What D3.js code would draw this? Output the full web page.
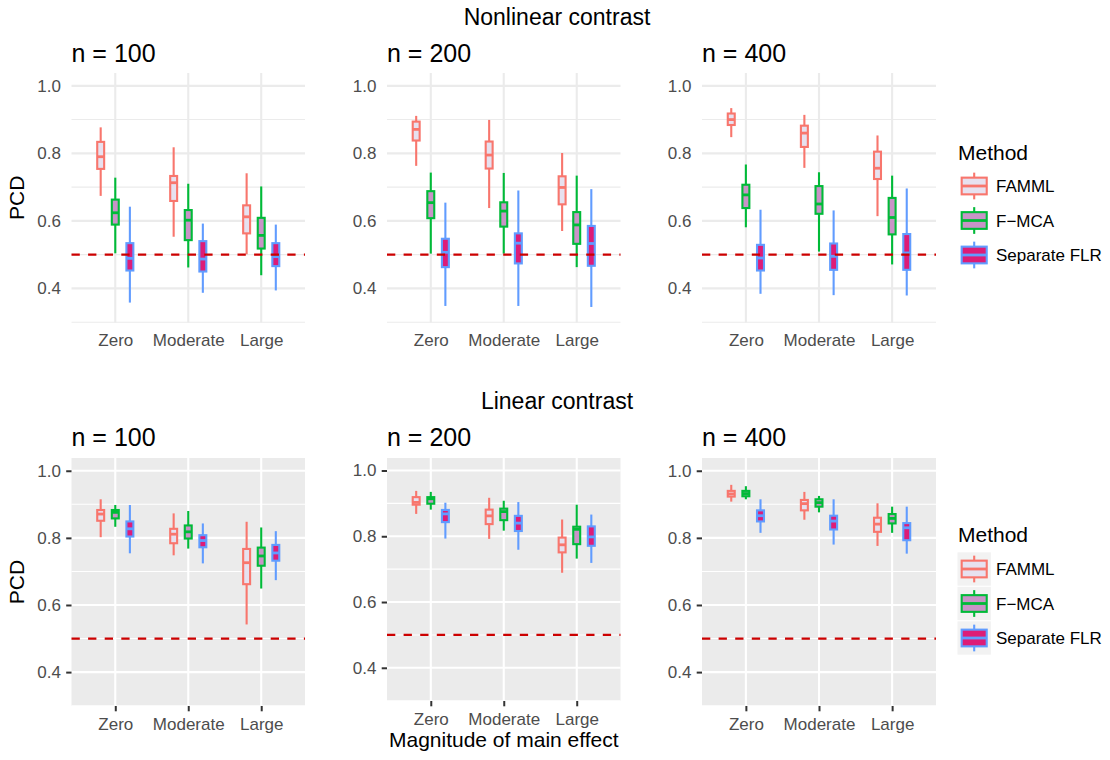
<!DOCTYPE html>
<html>
<head>
<meta charset="utf-8">
<script src="https://cdn.jsdelivr.net/npm/d3@7"></script>
<style>
  html, body { margin: 0; padding: 0; background: #ffffff; }
  svg { display: block; font-family: "Liberation Sans", Arial, Helvetica, sans-serif; }
</style>
</head>
<body>
<svg id="chart" width="1110" height="760"></svg>
<script>
// ---- data ----
const categories = ["Zero", "Moderate", "Large"];
const methods = ["FAMML", "F\u2212MCA", "Separate FLR"];
const sampleSizes = ["n = 100", "n = 200", "n = 400"];
const contrasts = ["Nonlinear contrast", "Linear contrast"];
const yTicks = [0.4, 0.6, 0.8, 1.0];
const yMinorTicks = [0.3, 0.5, 0.7, 0.9];
const chanceLevel = 0.5;
const outlineColors = ["#F8766D", "#00BA38", "#619CFF"];
const fillColors = ["#E7E1EF", "#C994C7", "#DD1C77"];

// Box statistics: [lower whisker, Q1, median, Q3, upper whisker]
// rows: Zero (FAMML, F-MCA, Separate FLR), Moderate (...), Large (...)
const nonlinearN100 = [
  [0.674, 0.754, 0.790, 0.834, 0.877],
  [0.504, 0.589, 0.624, 0.663, 0.728],
  [0.358, 0.453, 0.489, 0.534, 0.642],
  [0.553, 0.659, 0.713, 0.733, 0.818],
  [0.462, 0.543, 0.602, 0.632, 0.710],
  [0.387, 0.450, 0.487, 0.540, 0.592],
  [0.501, 0.563, 0.612, 0.646, 0.741],
  [0.439, 0.518, 0.557, 0.609, 0.702],
  [0.394, 0.466, 0.494, 0.534, 0.589]
];
const nonlinearN200 = [
  [0.763, 0.838, 0.871, 0.894, 0.911],
  [0.503, 0.608, 0.654, 0.688, 0.743],
  [0.348, 0.463, 0.507, 0.547, 0.654],
  [0.638, 0.755, 0.795, 0.835, 0.899],
  [0.503, 0.583, 0.629, 0.655, 0.742],
  [0.348, 0.474, 0.534, 0.563, 0.690],
  [0.570, 0.649, 0.699, 0.732, 0.801],
  [0.463, 0.532, 0.588, 0.626, 0.734],
  [0.345, 0.467, 0.533, 0.585, 0.694]
];
const nonlinearN400 = [
  [0.848, 0.884, 0.900, 0.918, 0.934],
  [0.581, 0.638, 0.677, 0.707, 0.767],
  [0.384, 0.453, 0.490, 0.529, 0.633],
  [0.757, 0.819, 0.860, 0.882, 0.914],
  [0.509, 0.621, 0.650, 0.703, 0.744],
  [0.380, 0.455, 0.495, 0.533, 0.631],
  [0.614, 0.724, 0.756, 0.805, 0.853],
  [0.471, 0.560, 0.610, 0.668, 0.734],
  [0.379, 0.455, 0.505, 0.561, 0.696]
];
const linearN100 = [
  [0.802, 0.851, 0.871, 0.883, 0.915],
  [0.833, 0.858, 0.876, 0.883, 0.898],
  [0.754, 0.804, 0.827, 0.849, 0.898],
  [0.748, 0.784, 0.811, 0.827, 0.873],
  [0.768, 0.798, 0.818, 0.837, 0.880],
  [0.724, 0.772, 0.792, 0.808, 0.843],
  [0.542, 0.662, 0.726, 0.767, 0.848],
  [0.649, 0.717, 0.746, 0.771, 0.831],
  [0.674, 0.732, 0.755, 0.779, 0.820]
];
const linearN200 = [
  [0.868, 0.896, 0.903, 0.919, 0.938],
  [0.881, 0.899, 0.914, 0.919, 0.935],
  [0.793, 0.843, 0.868, 0.880, 0.902],
  [0.792, 0.837, 0.862, 0.881, 0.917],
  [0.817, 0.849, 0.875, 0.884, 0.908],
  [0.759, 0.816, 0.840, 0.862, 0.904],
  [0.689, 0.751, 0.774, 0.796, 0.851],
  [0.732, 0.776, 0.821, 0.829, 0.896],
  [0.719, 0.771, 0.798, 0.830, 0.866]
];
const linearN400 = [
  [0.908, 0.923, 0.931, 0.940, 0.958],
  [0.915, 0.924, 0.932, 0.940, 0.954],
  [0.815, 0.849, 0.866, 0.882, 0.915],
  [0.854, 0.882, 0.902, 0.913, 0.937],
  [0.876, 0.893, 0.905, 0.915, 0.925],
  [0.780, 0.825, 0.850, 0.866, 0.915],
  [0.776, 0.818, 0.841, 0.860, 0.903],
  [0.815, 0.843, 0.858, 0.871, 0.893],
  [0.753, 0.793, 0.830, 0.844, 0.893]
];

const panelStats = [
  [nonlinearN100, nonlinearN200, nonlinearN400],
  [linearN100, linearN200, linearN400]
];

// ---- layout ----
const yDomain = [0.299, 1.038];
const columnX = [[71.5, 305], [387, 620.5], [702, 936]];
const rowLayout = [
  { top: 73,  bottom: [322.5, 322.5, 322.5], titleY: 25,  nTitleY: 62,    grey: false, legendTitleY: 160, legendKeyY: 186 },
  { top: 458, bottom: [706, 701, 706],       titleY: 409, nTitleY: 445.7, grey: true,  legendTitleY: 542, legendKeyY: 569 }
];
const majorW = 2.1, minorW = 1.05;

const svg = d3.select("#chart");

function drawBox(g, cx, bw, row, y, mi) {
  const [lo, q1, med, q3, hi] = row;
  g.append("line")
    .attr("x1", cx).attr("x2", cx)
    .attr("y1", y(lo)).attr("y2", y(hi))
    .attr("stroke", outlineColors[mi]).attr("stroke-width", 2.1);
  g.append("rect")
    .attr("x", cx - bw / 2).attr("width", bw)
    .attr("y", y(q3)).attr("height", y(q1) - y(q3))
    .attr("fill", fillColors[mi])
    .attr("stroke", outlineColors[mi]).attr("stroke-width", 2.1);
  g.append("line")
    .attr("x1", cx - bw / 2).attr("x2", cx + bw / 2)
    .attr("y1", y(med)).attr("y2", y(med))
    .attr("stroke", outlineColors[mi]).attr("stroke-width", 2.8);
}

function drawPanel(stats, x0, x1, y0, y1, grey, showXTitle) {
  const g = svg.append("g");
  const x = d3.scalePoint().domain(categories).range([x0, x1]).padding(0.6);
  const step = x.step();
  const y = d3.scaleLinear().domain(yDomain).range([y1, y0]);
  const gridColor = grey ? "#FFFFFF" : "#EBEBEB";

  if (grey) {
    g.append("rect").attr("x", x0).attr("y", y0)
      .attr("width", x1 - x0).attr("height", y1 - y0)
      .attr("fill", "#EBEBEB");
  }
  // grid
  g.selectAll(null).data(yMinorTicks).enter().append("line")
    .attr("x1", x0).attr("x2", x1)
    .attr("y1", d => y(d)).attr("y2", d => y(d))
    .attr("stroke", gridColor).attr("stroke-width", minorW);
  g.selectAll(null).data(yTicks).enter().append("line")
    .attr("x1", x0).attr("x2", x1)
    .attr("y1", d => y(d)).attr("y2", d => y(d))
    .attr("stroke", gridColor).attr("stroke-width", majorW);
  g.selectAll(null).data(categories).enter().append("line")
    .attr("x1", d => x(d)).attr("x2", d => x(d))
    .attr("y1", y0).attr("y2", y1)
    .attr("stroke", gridColor).attr("stroke-width", majorW);

  // axes
  const tickLen = grey ? 5.3 : 0;
  const yAxis = d3.axisLeft(y).tickValues(yTicks).tickFormat(d3.format(".1f"))
    .tickSize(tickLen).tickPadding(10.5 - tickLen);
  const xAxis = d3.axisBottom(x).tickSize(tickLen).tickPadding(11.9 - tickLen);
  const ya = g.append("g").attr("transform", `translate(${x0},0)`).call(yAxis);
  const xa = g.append("g").attr("transform", `translate(0,${y1})`).call(xAxis);
  [ya, xa].forEach(a => {
    a.attr("font-family", null).attr("font-size", null);
    a.select(".domain").remove();
    a.selectAll(".tick line").attr("stroke", "#333333").attr("stroke-width", 2);
    a.selectAll(".tick text").attr("fill", "#4D4D4D").style("font-size", "17px");
  });

  // boxes
  const bw = 0.095 * step;
  categories.forEach((c, ci) => {
    methods.forEach((m, mi) => {
      const cx = x(c) + (mi - 1) * 0.2 * step;
      drawBox(g, cx, bw, stats[ci * 3 + mi], y, mi);
    });
  });

  // reference line at chance level
  g.append("line")
    .attr("x1", x0).attr("x2", x1)
    .attr("y1", y(chanceLevel)).attr("y2", y(chanceLevel))
    .attr("stroke", "#CC0000").attr("stroke-width", 2.2)
    .attr("stroke-dasharray", "8.3 8.3");

  if (showXTitle) {
    svg.append("text").attr("x", (x0 + x1) / 2).attr("y", 747)
      .attr("text-anchor", "middle").attr("fill", "#000")
      .style("font-size", "21px").text("Magnitude of main effect");
  }
}

function drawLegend(titleY, keyY, grey) {
  const g = svg.append("g");
  const keySize = 33.4, keyStep = 34.5, kx = 957.5;
  g.append("text").attr("x", 958).attr("y", titleY)
    .attr("fill", "#000").style("font-size", "21px").text("Method");
  methods.forEach((m, i) => {
    const cy = keyY + i * keyStep;
    const top = cy - keySize / 2;
    if (grey) {
      g.append("rect").attr("x", kx).attr("y", top)
        .attr("width", keySize).attr("height", keySize).attr("fill", "#F2F2F2");
    }
    const cx = kx + keySize / 2;
    g.append("line").attr("x1", cx).attr("x2", cx)
      .attr("y1", top + 0.1 * keySize).attr("y2", top + 0.9 * keySize)
      .attr("stroke", outlineColors[i]).attr("stroke-width", 2.1);
    g.append("rect").attr("x", kx + 0.125 * keySize).attr("width", 0.75 * keySize)
      .attr("y", top + 0.25 * keySize).attr("height", 0.5 * keySize)
      .attr("fill", fillColors[i]).attr("stroke", outlineColors[i]).attr("stroke-width", 2.1);
    g.append("line").attr("x1", kx + 0.125 * keySize).attr("x2", kx + 0.875 * keySize)
      .attr("y1", cy).attr("y2", cy)
      .attr("stroke", outlineColors[i]).attr("stroke-width", 2.8);
    g.append("text").attr("x", 996).attr("y", cy + 6)
      .attr("fill", "#000").style("font-size", "17px").text(m);
  });
}

rowLayout.forEach((row, ri) => {
  svg.append("text").attr("x", 557).attr("y", row.titleY)
    .attr("text-anchor", "middle").attr("fill", "#000")
    .style("font-size", "23px").text(contrasts[ri]);
  sampleSizes.forEach((n, ci) => {
    const [x0, x1] = columnX[ci];
    svg.append("text").attr("x", x0).attr("y", row.nTitleY)
      .attr("fill", "#000").style("font-size", "25px").text(n);
    drawPanel(panelStats[ri][ci], x0, x1, row.top, row.bottom[ci], row.grey, ri === 1 && ci === 1);
  });
  const yc = (row.top + row.bottom[0]) / 2;
  svg.append("text").attr("transform", `translate(17,${yc}) rotate(-90)`)
    .attr("text-anchor", "middle").attr("dy", "0.35em").attr("fill", "#000")
    .style("font-size", "21px").text("PCD");
  drawLegend(row.legendTitleY, row.legendKeyY, row.grey);
});
</script>
</body>
</html>
